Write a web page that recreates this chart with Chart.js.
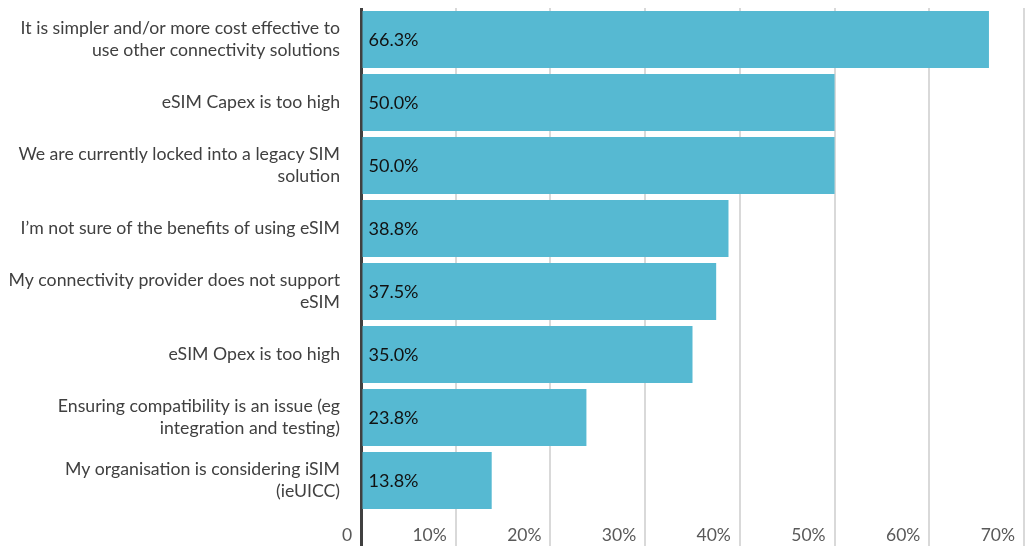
<!DOCTYPE html>
<html>
<head>
<meta charset="utf-8">
<script src="https://cdn.jsdelivr.net/npm/chart.js@4/dist/chart.umd.min.js"></script>
<style>
  html, body { margin: 0; padding: 0; background: #fff; }
  #wrap { width: 1030px; height: 546px; position: relative; }
</style>
</head>
<body>
<div id="wrap"><canvas id="barChart"></canvas></div>
<script>
// categories (split in lines like the original)
const categories = [
    ['It is simpler and/or more cost effective to', 'use other connectivity solutions'],
    'eSIM Capex is too high',
    ['We are currently locked into a legacy SIM', 'solution'],
    'I\u2019m not sure of the benefits of using eSIM',
    ['My connectivity provider does not support', 'eSIM'],
    'eSIM Opex is too high',
    ['Ensuring compatibility is an issue (eg', 'integration and testing)'],
    ['My organisation is considering iSIM', '(ieUICC)']
];
const values = [66.3, 50.0, 50.0, 38.8, 37.5, 35.0, 23.8, 13.8];
const xTicks = [0, 10, 20, 30, 40, 50, 60, 70];

// labels drawn inside each bar, at its start
const barLabels = {
    id: 'barLabels',
    afterDatasetsDraw(chart) {
        const ctx = chart.ctx;
        const meta = chart.getDatasetMeta(0);
        ctx.save();
        ctx.font = '18px Lato';
        ctx.fillStyle = '#111111';
        ctx.textAlign = 'left';
        ctx.textBaseline = 'middle';
        meta.data.forEach((bar, i) => {
            ctx.fillText(values[i].toFixed(1) + '%', bar.base + 6, bar.y + 1);
        });
        ctx.restore();
    }
};

const ctx = document.getElementById('barChart').getContext('2d');
new Chart(ctx, {
    type: 'bar',
    data: {
        labels: categories,
        datasets: [{
            data: values,
            backgroundColor: '#56B9D2',
            borderWidth: 0,
            barPercentage: 0.905,
            categoryPercentage: 1
        }]
    },
    options: {
        indexAxis: 'y',
        responsive: true,
        maintainAspectRatio: false,
        animation: false,
        layout: { padding: { top: 8, right: 6, left: 0, bottom: 0 } },
        plugins: {
            legend: { display: false },
            tooltip: { enabled: false }
        },
        scales: {
            x: {
                min: 0,
                max: 70,
                afterBuildTicks: scale => {
                    scale.ticks = xTicks.map(v => ({ value: v }));
                },
                afterFit: scale => {
                    scale.height = 34;
                    scale.paddingLeft = 0;
                    scale.paddingRight = 0;
                },
                border: { display: false },
                grid: {
                    color: c => c.index === 0 ? '#404040' : '#d9d9d9',
                    lineWidth: c => c.index === 0 ? 3 : 2,
                    tickLength: 34,
                    drawTicks: true
                },
                ticks: {
                    align: 'end',
                    padding: -21,
                    color: '#595959',
                    font: { family: 'Lato', size: 17.5 },
                    callback: v => (v === 0 ? '0' : v + '%') + '  '
                }
            },
            y: {
                afterFit: scale => {
                    scale.width = 361;
                    scale.paddingTop = 0;
                    scale.paddingBottom = 0;
                },
                border: { display: false },
                grid: { display: false, drawTicks: false },
                ticks: {
                    padding: 21,
                    color: '#404040',
                    font: { family: 'Lato', size: 17.7, lineHeight: 1.22 }
                }
            }
        }
    },
    plugins: [barLabels]
});
</script>
</body>
</html>
